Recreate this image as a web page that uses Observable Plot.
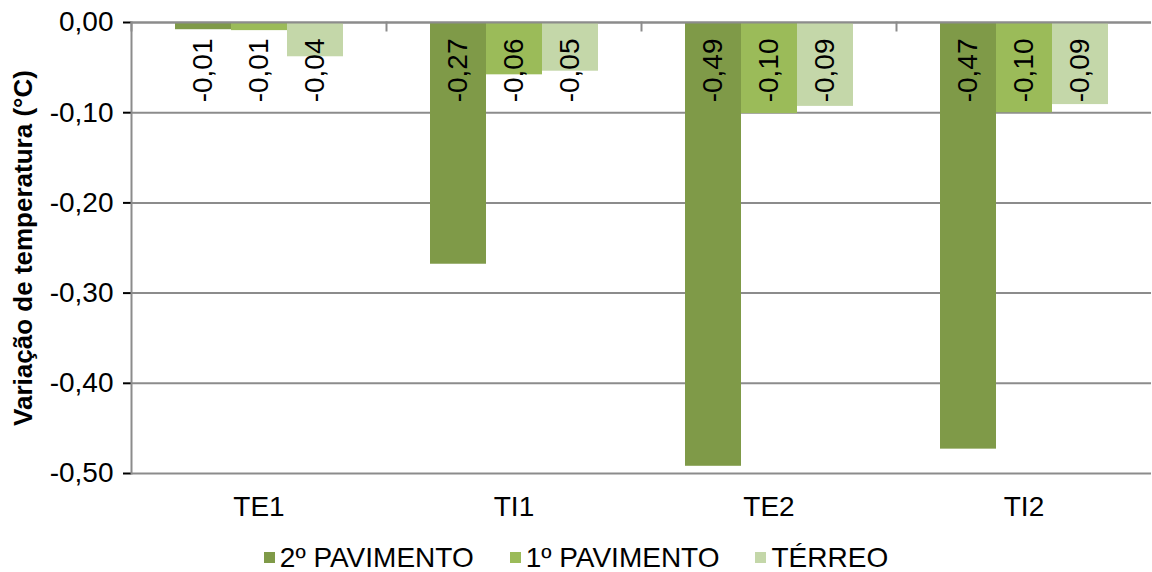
<!DOCTYPE html>
<html><head><meta charset="utf-8">
<script src="https://cdn.jsdelivr.net/npm/d3@7"></script>
<script src="https://cdn.jsdelivr.net/npm/@observablehq/plot@0.6"></script>
<style>
body{margin:0;background:#fff;font-family:"Liberation Sans",Arial,sans-serif;}
#chart svg{display:block;}
#chart g[aria-label="y-axis label"] text, #chart g[aria-label="y-axis label"]{font-weight:bold;font-size:26px;}
#chart g[aria-label="y-axis tick"]{stroke:#868686;stroke-width:2px;}
#legend{height:42px;box-sizing:border-box;padding-top:13px;display:flex;justify-content:center;align-items:center;font-size:28px;line-height:1;color:#000;}
#legend .item{display:flex;align-items:center;margin:0 18px;}
#legend .sw{width:11px;height:11px;margin-right:5px;}
</style></head><body>
<div id="chart"></div><div id="legend"></div>
<script>
const categories = ["TE1", "TI1", "TE2", "TI2"];
const series = ["2º PAVIMENTO", "1º PAVIMENTO", "TÉRREO"];
const pav2 = [-0.008, -0.268, -0.492, -0.473];
const pav1 = [-0.009, -0.058, -0.101, -0.100];
const terreo = [-0.038, -0.054, -0.093, -0.091];
const colors = ["#7F9A48", "#9BBB59", "#C4D7A9"];
const yTicks = [0, -0.1, -0.2, -0.3, -0.4, -0.5];

const seriesValues = [pav2, pav1, terreo];
const data = [];
categories.forEach((c, i) => series.forEach((s, j) => data.push({cat: c, series: s, value: seriesValues[j][i]})));

const fmt = v => d3.format(".2f")(v).replace(".", ",").replace("\u2212", "-").replace(/^-0,00$/, "0,00");

const W = 1152, H = 530, MT = 22, MB = 57;
const chart = Plot.plot({
  width: W, height: H,
  marginTop: MT, marginBottom: MB, marginLeft: 130, marginRight: 0,
  style: {fontFamily: '"Liberation Sans", Arial, sans-serif', fontSize: "28px", color: "#000", background: "#fff"},
  fx: {domain: categories, padding: 0, label: null, axis: "bottom", tickSize: 0, tickPadding: 23},
  x: {domain: series, paddingInner: 0, paddingOuter: 0.75, axis: null},
  y: {domain: [-0.5, 0], ticks: yTicks, tickFormat: fmt, tickSize: 8, tickPadding: 10,
      label: "Variação de temperatura (°C)", labelAnchor: "center", labelOffset: 118, labelArrow: "none"},
  color: {domain: series, range: colors},
  marks: [
    Plot.ruleY(yTicks, {stroke: "#8C8C8C", strokeWidth: 2}),
    Plot.barY(data, {fx: "cat", x: "series", y: "value", fill: "series"}),
    Plot.ruleY([0], {stroke: "#8C8C8C", strokeWidth: 2}),
    Plot.frame({anchor: "left", facetAnchor: "left", stroke: "#8C8C8C", strokeWidth: 2}),
    Plot.frame({anchor: "left", stroke: "#8C8C8C", strokeWidth: 2, insetBottom: H - MT - MB - 8}),
    Plot.text(data, {fx: "cat", x: "series", y: () => 0, text: d => fmt(d.value), rotate: -90, textAnchor: "end", dy: 16, fontSize: 28, fill: "#000"})
  ]
});
document.getElementById("chart").appendChild(chart);

const legend = document.getElementById("legend");
series.forEach((s, i) => {
  const item = document.createElement("div");
  item.className = "item";
  const sw = document.createElement("span");
  sw.className = "sw";
  sw.style.background = colors[i];
  const t = document.createElement("span");
  t.textContent = s;
  item.appendChild(sw); item.appendChild(t);
  legend.appendChild(item);
});
</script>
</body></html>
